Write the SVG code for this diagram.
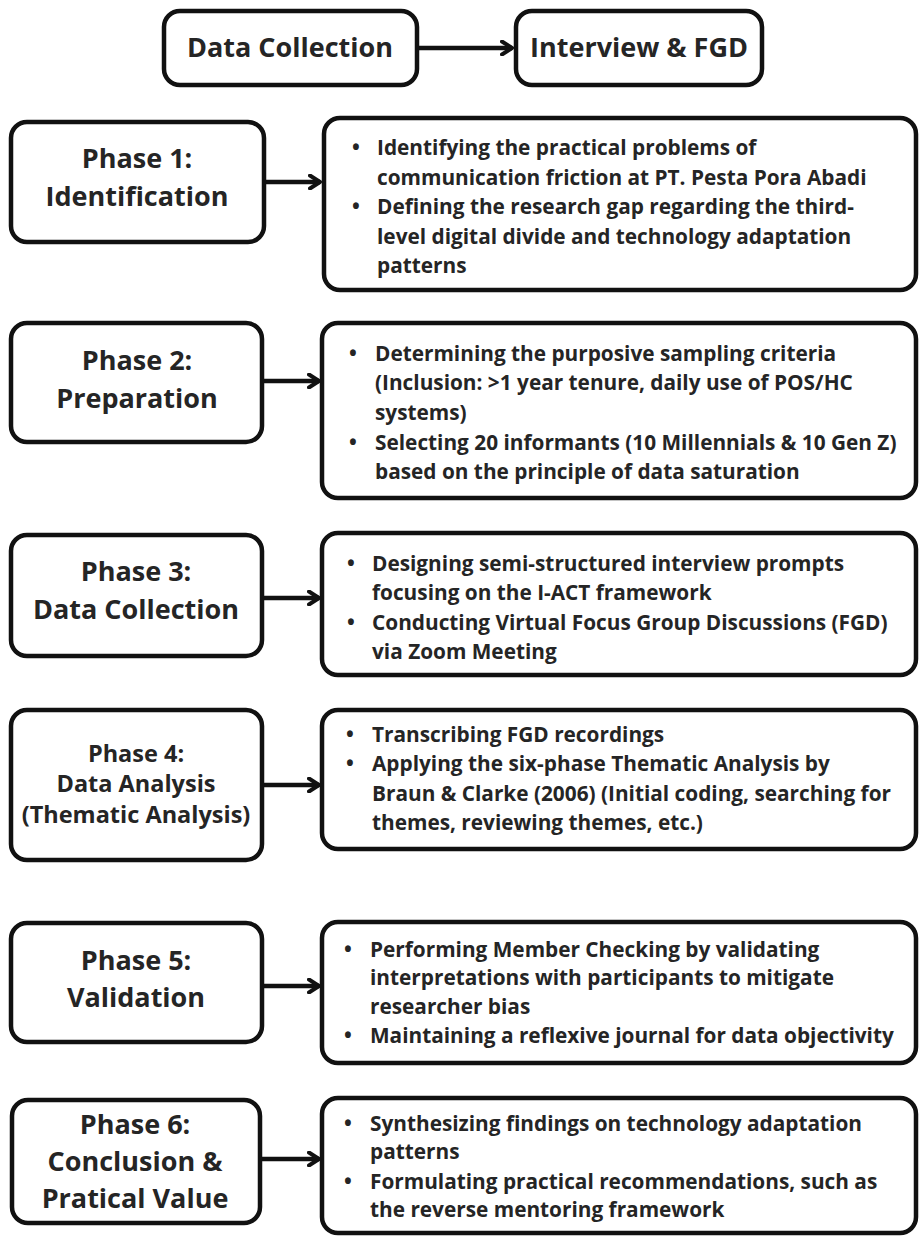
<svg xmlns="http://www.w3.org/2000/svg" width="919" height="1236" viewBox="0 0 919 1236">
<defs>
<marker id="ah" viewBox="0 0 14 16" refX="12" refY="8" markerWidth="14" markerHeight="16" markerUnits="userSpaceOnUse" orient="auto">
<path d="M2,1.5 L12,8 L2,14.5" fill="none" stroke="#111" stroke-width="4" stroke-linecap="round" stroke-linejoin="round"/>
</marker>
<style>
.box{fill:#fff;stroke:#111;stroke-width:4.5}
.t{font-family:"Open Sans","DejaVu Sans",sans-serif;font-weight:700;fill:#252525}
.h{font-size:27px;text-anchor:middle}
.h4{font-size:23.5px;text-anchor:middle}
.b{font-size:20.8px}
.c{stroke:#111;stroke-width:4.5;fill:none}
</style>
</defs>
<rect width="919" height="1236" fill="#fff"/>

<g id="connectors">
<line class="c" x1="417" y1="48" x2="512" y2="48" marker-end="url(#ah)"/>
<line class="c" x1="264" y1="182" x2="320" y2="182" marker-end="url(#ah)"/>
<line class="c" x1="262" y1="381" x2="319" y2="381" marker-end="url(#ah)"/>
<line class="c" x1="262" y1="598" x2="319" y2="598" marker-end="url(#ah)"/>
<line class="c" x1="262" y1="785" x2="319" y2="785" marker-end="url(#ah)"/>
<line class="c" x1="262" y1="986" x2="319" y2="986" marker-end="url(#ah)"/>
<line class="c" x1="260" y1="1159" x2="319" y2="1159" marker-end="url(#ah)"/>
</g>

<g id="data-collection">
<rect class="box" x="164" y="11" width="253" height="74" rx="16"/>
<text class="t h" x="290" y="57">Data Collection</text>
</g>
<g id="interview-fgd">
<rect class="box" x="516" y="11" width="246" height="74" rx="16"/>
<text class="t h" x="639" y="57">Interview &amp; FGD</text>
</g>

<g id="phase1">
<rect class="box" x="11" y="122" width="253" height="120" rx="16"/>
<text class="t h" x="137" y="168">Phase 1:</text>
<text class="t h" x="137" y="206">Identification</text>
</g>
<g id="phase1-detail">
<rect class="box" x="324" y="118" width="592" height="172" rx="16"/>
<text class="t b"><tspan x="352" y="155">•</tspan><tspan x="377" y="155">Identifying the practical problems of</tspan><tspan x="377" y="185">communication friction at PT. Pesta Pora Abadi</tspan><tspan x="352" y="214">•</tspan><tspan x="377" y="214">Defining the research gap regarding the third-</tspan><tspan x="377" y="244">level digital divide and technology adaptation</tspan><tspan x="377" y="273">patterns</tspan></text>
</g>

<g id="phase2">
<rect class="box" x="11" y="323" width="251" height="119" rx="16"/>
<text class="t h" x="137" y="370">Phase 2:</text>
<text class="t h" x="137" y="408">Preparation</text>
</g>
<g id="phase2-detail">
<rect class="box" x="322" y="323" width="594" height="175" rx="16"/>
<text class="t b"><tspan x="349" y="361">•</tspan><tspan x="375" y="361">Determining the purposive sampling criteria</tspan><tspan x="375" y="390">(Inclusion: &gt;1 year tenure, daily use of POS/HC</tspan><tspan x="375" y="420">systems)</tspan><tspan x="349" y="450">•</tspan><tspan x="375" y="450">Selecting 20 informants (10 Millennials &amp; 10 Gen Z)</tspan><tspan x="375" y="479">based on the principle of data saturation</tspan></text>
</g>

<g id="phase3">
<rect class="box" x="11" y="535" width="251" height="121" rx="16"/>
<text class="t h" x="136" y="581">Phase 3:</text>
<text class="t h" x="136" y="619">Data Collection</text>
</g>
<g id="phase3-detail">
<rect class="box" x="322" y="533" width="594" height="142" rx="16"/>
<text class="t b"><tspan x="347" y="571">•</tspan><tspan x="372" y="571">Designing semi-structured interview prompts</tspan><tspan x="372" y="600">focusing on the I-ACT framework</tspan><tspan x="347" y="630">•</tspan><tspan x="372" y="630">Conducting Virtual Focus Group Discussions (FGD)</tspan><tspan x="372" y="659">via Zoom Meeting</tspan></text>
</g>

<g id="phase4">
<rect class="box" x="11" y="710" width="251" height="150" rx="16"/>
<text class="t h4" x="136" y="762">Phase 4:</text>
<text class="t h4" x="136" y="792">Data Analysis</text>
<text class="t h4" x="136" y="823">(Thematic Analysis)</text>
</g>
<g id="phase4-detail">
<rect class="box" x="322" y="710" width="594" height="139" rx="16"/>
<text class="t b"><tspan x="346" y="742">•</tspan><tspan x="372" y="742">Transcribing FGD recordings</tspan><tspan x="346" y="771">•</tspan><tspan x="372" y="771">Applying the six-phase Thematic Analysis by</tspan><tspan x="372" y="801">Braun &amp; Clarke (2006) (Initial coding, searching for</tspan><tspan x="372" y="830">themes, reviewing themes, etc.)</tspan></text>
</g>

<g id="phase5">
<rect class="box" x="11" y="923" width="251" height="119" rx="16"/>
<text class="t h" x="136" y="970">Phase 5:</text>
<text class="t h" x="136" y="1007">Validation</text>
</g>
<g id="phase5-detail">
<rect class="box" x="322" y="922" width="594" height="141" rx="16"/>
<text class="t b"><tspan x="344" y="957">•</tspan><tspan x="370" y="957">Performing Member Checking by validating</tspan><tspan x="370" y="985">interpretations with participants to mitigate</tspan><tspan x="370" y="1014">researcher bias</tspan><tspan x="344" y="1043">•</tspan><tspan x="370" y="1043">Maintaining a reflexive journal for data objectivity</tspan></text>
</g>

<g id="phase6">
<rect class="box" x="12" y="1100" width="248" height="123" rx="16"/>
<text class="t h" x="135" y="1134">Phase 6:</text>
<text class="t h" x="135" y="1171">Conclusion &amp;</text>
<text class="t h" x="135" y="1208">Pratical Value</text>
</g>
<g id="phase6-detail">
<rect class="box" x="322" y="1098" width="594" height="135" rx="16"/>
<text class="t b"><tspan x="344" y="1131">•</tspan><tspan x="370" y="1131">Synthesizing findings on technology adaptation</tspan><tspan x="370" y="1159">patterns</tspan><tspan x="344" y="1189">•</tspan><tspan x="370" y="1189">Formulating practical recommendations, such as</tspan><tspan x="370" y="1217">the reverse mentoring framework</tspan></text>
</g>
</svg>
